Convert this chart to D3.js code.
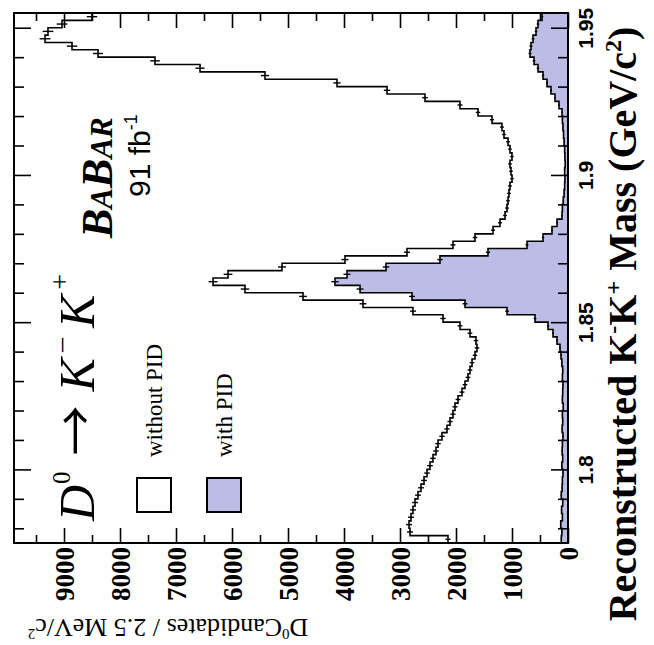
<!DOCTYPE html>
<html><head><meta charset="utf-8">
<script src="https://cdn.jsdelivr.net/npm/d3@7"></script>
<style>body{margin:0;background:#fff}svg{display:block}</style>
</head><body>
<svg id="chart" width="654" height="645"></svg>
<script>
// ---- data ----
const binStart = 1.775;     // GeV/c^2
const binWidth = 0.0025;    // 2.5 MeV/c^2
const withoutPID = [2143,2821,2839,2804,2768,2732,2679,2625,2571,2518,
  2464,2411,2357,2321,2250,2161,2107,2054,2018,1964,
  1893,1839,1786,1750,1714,1661,1625,1643,1750,1929,
  2232,2768,3661,4732,5768,6339,6071,5107,3982,2875,
  2054,1661,1339,1214,1125,1089,1071,1054,1036,1000,
  1018,1036,1000,1036,1071,1143,1179,1357,1607,1929,
  2554,3232,4125,5411,6571,7375,8393,8857,9339,9286,
  9036,8500];
const withPID = [120,110,130,100,115,95,120,105,100,90,
  110,95,105,100,90,105,95,100,85,100,
  95,90,100,95,110,125,143,196,268,357,
  589,1089,1839,2786,3714,4161,3946,3250,2286,1429,
  732,446,286,196,107,100,85,70,60,55,
  60,50,55,60,70,80,90,100,107,161,
  232,304,375,446,536,607,679,661,625,571,
  536,464];
const countMajorTicks = [0,1000,2000,3000,4000,5000,6000,7000,8000,9000];
const countMinorTicks = [500,1500,2500,3500,4500,5500,6500,7500,8500,9500];
const massMajorTicks = [1.8,1.85,1.9,1.95];
const massMajorLabels = ["1.8","1.85","1.9","1.95"];
const massMinorTicks = [1.78,1.79,1.81,1.82,1.83,1.84,1.86,1.87,1.88,1.89,1.91,1.92,1.93,1.94];

// ---- layout ----
const svg = d3.select("#chart");
const L = 14, R = 568, T = 13, B = 543;
const yM = d3.scaleLinear().domain([1.775, 1.955]).range([B, T]);
const xC = d3.scaleLinear().domain([0, 9893]).range([R, L]);
const FILL = "#bbbde6";

function stepPts(vals){
  const pts = [];
  vals.forEach((v,i)=>{
    const m0 = binStart + i*binWidth, m1 = m0 + binWidth;
    pts.push([xC(v), yM(m0)]);
    pts.push([xC(v), yM(m1)]);
  });
  return pts;
}

const plot = svg.append("g");
const inPts = stepPts(withPID);
plot.append("path")
  .attr("d", d3.area().x0(xC(0)).x1(d=>d[0]).y(d=>d[1])(inPts))
  .attr("fill", FILL);
plot.append("path")
  .attr("d", d3.line()(inPts))
  .attr("fill","none").attr("stroke","#000").attr("stroke-width",1.6);
plot.append("path")
  .attr("d", d3.line()(stepPts(withoutPID)))
  .attr("fill","none").attr("stroke","#000").attr("stroke-width",1.6);
function errBars(vals){
  plot.append("g").selectAll("line").data(vals).join("line")
    .attr("x1", v=>xC(v+Math.sqrt(v))).attr("x2", v=>xC(Math.max(0,v-Math.sqrt(v))))
    .attr("y1", (v,i)=>yM(binStart+(i+0.5)*binWidth)).attr("y2",(v,i)=>yM(binStart+(i+0.5)*binWidth))
    .attr("stroke","#000").attr("stroke-width",1.4);
}
errBars(withPID); errBars(withoutPID);

// ---- axes ----
function styleAxis(g){ g.select(".domain").remove(); g.selectAll("line").attr("stroke","#000").attr("stroke-width",1.6); }
const axB = svg.append("g").attr("transform",`translate(0,${B})`)
  .call(d3.axisBottom(xC).tickValues(countMajorTicks).tickSizeInner(-15).tickSizeOuter(0).tickFormat(d3.format("d")));
axB.call(styleAxis);
axB.selectAll("text")
  .attr("transform","rotate(-90)").attr("text-anchor","end")
  .attr("x",-4).attr("y",0).attr("dy","0.36em")
  .attr("font-family","'Liberation Serif', serif").attr("font-weight","bold").attr("font-size",27).attr("fill","#000");
svg.append("g").attr("transform",`translate(0,${B})`)
  .call(d3.axisBottom(xC).tickValues(countMinorTicks).tickSizeInner(-8).tickSizeOuter(0).tickFormat(""))
  .call(styleAxis);
svg.append("g").attr("transform",`translate(0,${T})`)
  .call(d3.axisTop(xC).tickValues(countMajorTicks).tickSizeInner(-15).tickSizeOuter(0).tickFormat(""))
  .call(styleAxis);
svg.append("g").attr("transform",`translate(0,${T})`)
  .call(d3.axisTop(xC).tickValues(countMinorTicks).tickSizeInner(-8).tickSizeOuter(0).tickFormat(""))
  .call(styleAxis);

const axR = svg.append("g").attr("transform",`translate(${R},0)`)
  .call(d3.axisRight(yM).tickValues(massMajorTicks).tickSizeInner(-17).tickSizeOuter(0).tickFormat((d,i)=>massMajorLabels[i]));
axR.call(styleAxis);
axR.selectAll("text")
  .attr("transform","rotate(-90)").attr("text-anchor","middle")
  .attr("x",0).attr("y",25).attr("dy",0)
  .attr("font-family","'Liberation Sans', sans-serif").attr("font-weight","bold").attr("font-size",21).attr("fill","#000");
svg.append("g").attr("transform",`translate(${R},0)`)
  .call(d3.axisRight(yM).tickValues(massMinorTicks).tickSizeInner(-10).tickSizeOuter(0).tickFormat(""))
  .call(styleAxis);
svg.append("g").attr("transform",`translate(${L},0)`)
  .call(d3.axisLeft(yM).tickValues(massMajorTicks).tickSizeInner(-17).tickSizeOuter(0).tickFormat(""))
  .call(styleAxis);
svg.append("g").attr("transform",`translate(${L},0)`)
  .call(d3.axisLeft(yM).tickValues(massMinorTicks).tickSizeInner(-10).tickSizeOuter(0).tickFormat(""))
  .call(styleAxis);

svg.append("rect").attr("x",L).attr("y",T).attr("width",R-L).attr("height",B-T)
  .attr("fill","none").attr("stroke","#000").attr("stroke-width",2);

// ---- titles ----
const xt = svg.append("text").attr("transform","translate(636,324) rotate(-90)")
  .attr("text-anchor","middle").attr("font-family","'Liberation Serif', serif")
  .attr("font-weight","bold").attr("font-size",40).attr("fill","#000");
xt.append("tspan").text("Reconstructed K");
xt.append("tspan").attr("font-size",24).attr("dy",-15).text("-");
xt.append("tspan").attr("dy",15).text("K");
xt.append("tspan").attr("font-size",24).attr("dy",-15).text("+");
xt.append("tspan").attr("dy",15).text(" Mass (GeV/c");
xt.append("tspan").attr("font-size",24).attr("dy",-15).text("2");
xt.append("tspan").attr("dy",15).text(")");

const yt = svg.append("text").attr("transform","translate(168,619) rotate(180)")
  .attr("text-anchor","middle").attr("font-family","'Liberation Serif', serif")
  .attr("font-size",26).attr("fill","#000");
yt.append("tspan").text("D");
yt.append("tspan").attr("font-size",15).attr("dy",-10).text("0");
yt.append("tspan").attr("dy",10).text("Candidates / 2.5 MeV/c");
yt.append("tspan").attr("font-size",15).attr("dy",-10).text("2");

// BABAR
const bb = svg.append("text").attr("transform","translate(112,238) rotate(-90)")
  .attr("font-family","'Liberation Serif', serif").attr("font-weight","bold").attr("font-style","italic").attr("fill","#000");
[["B",44],["A",31],["B",44],["A",31],["R",31]].forEach(([c,s])=>bb.append("tspan").attr("font-size",s).text(c));
const lum = svg.append("text").attr("transform","translate(150,197) rotate(-90)")
  .attr("font-family","'Liberation Sans', sans-serif").attr("font-size",30).attr("fill","#000");
lum.append("tspan").text("91 fb");
lum.append("tspan").attr("font-size",18).attr("dy",-13).text("-1");

// decay formula  D0 -> K-K+
const df = svg.append("text").attr("transform","translate(94,521) rotate(-90)")
  .attr("font-family","'Liberation Serif', serif").attr("font-size",50).attr("fill","#000");
df.append("tspan").attr("font-style","italic").text("D");
df.append("tspan").attr("font-size",25).attr("dy",-24).attr("dx",1).text("0");
df.append("tspan").attr("dy",24).attr("dx",16).attr("font-family","'Noto Sans CJK JP', sans-serif").attr("font-size",50).text("\u2192");
df.append("tspan").attr("dx",14).attr("font-style","italic").text("K");
df.append("tspan").attr("font-size",28).attr("dy",-25).attr("dx",6).text("\u2013");
df.append("tspan").attr("dy",25).attr("dx",10).attr("font-style","italic").text("K");
df.append("tspan").attr("font-size",28).attr("dy",-25).attr("dx",5).text("+");

// legend
const legend = [{label:"without PID", fill:"#fff", x:137},{label:"with PID", fill:FILL, x:207}];
legend.forEach(d=>{
  svg.append("rect").attr("x",d.x).attr("y",478).attr("width",34).attr("height",34)
    .attr("fill",d.fill).attr("stroke","#000").attr("stroke-width",2);
  svg.append("text").attr("transform",`translate(${d.x+25},457) rotate(-90)`)
    .attr("font-family","'Liberation Serif', serif").attr("font-size",23).attr("fill","#000").text(d.label);
});
</script>
</body></html>
